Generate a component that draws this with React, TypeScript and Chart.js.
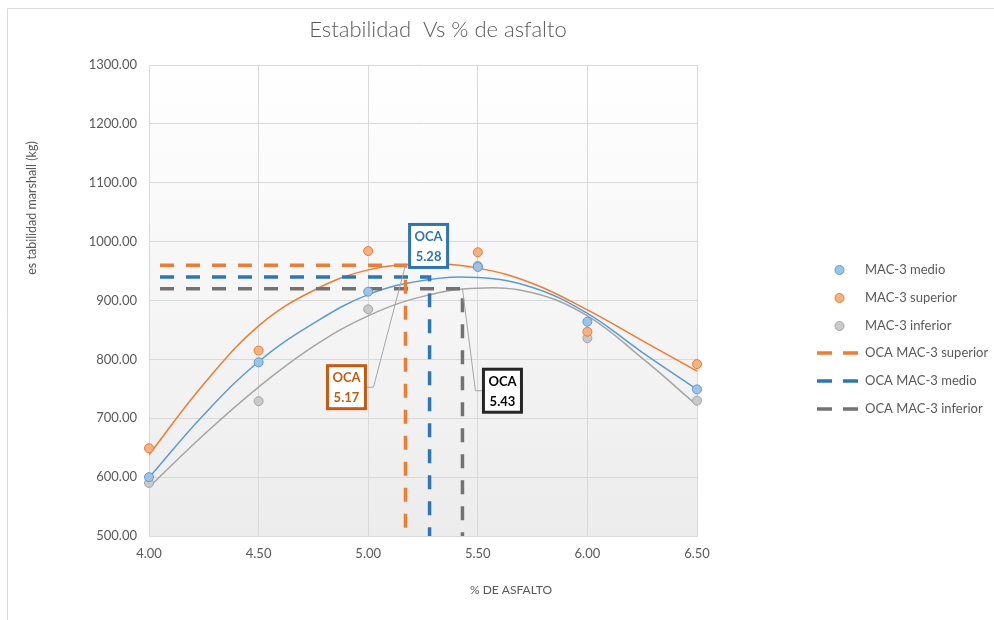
import React, { useEffect, useRef } from "react";
import { Chart, registerables } from "chart.js";

Chart.register(...registerables);

// ---- data ----
const asphaltContent = [4.0, 4.5, 5.0, 5.5, 6.0, 6.5];
const medio = [600, 795, 915, 957, 864, 749];
const superior = [649, 815, 984, 982, 847, 792];
const inferior = [590, 729, 885, 959, 836, 730];

// polynomial trendlines
const trendX = [4.0, 4.25, 4.5, 4.75, 5.0, 5.25, 5.5, 5.75, 6.0, 6.25, 6.5];
const trendSuperior = [638, 758, 857, 917, 952, 962, 955, 929, 884, 832, 780];
const trendMedio = [599, 706, 796, 861, 910, 934, 939, 922, 878, 812, 749];
const trendInferior = [583, 672, 753, 822, 874, 907, 921, 913, 874, 802, 722];

// optimum asphalt content (OCA) markers
const ocaLabels = ["OCA MAC-3 superior", "OCA MAC-3 medio", "OCA MAC-3 inferior"];
const ocaContent = [5.17, 5.28, 5.43];
const ocaStability = [960, 940, 920];

const xMin = 4.0;
const xMax = 6.5;
const xStep = 0.5;
const yMin = 500;
const yMax = 1300;
const yStep = 100;

const titleText = "Estabilidad  Vs % de asfalto";
const xTitle = "% DE ASFALTO";
const yTitle = "es tabilidad marshall (kg)";

const FONT = "Lato, 'Open Sans', sans-serif";

const pts = (xs: number[], ys: number[]) => xs.map((x, i) => ({ x, y: ys[i] }));

export default function App() {
  const ref = useRef<HTMLCanvasElement | null>(null);

  useEffect(() => {
    const canvas = ref.current;
    if (!canvas) return;

    const pointSeries = [
      { label: "MAC-3 medio", values: medio, fill: "#9dc3e6", stroke: "#5b9bd5" },
      { label: "MAC-3 superior", values: superior, fill: "#f4b183", stroke: "#ed7d31" },
      { label: "MAC-3 inferior", values: inferior, fill: "#c9c9c9", stroke: "#a5a5a5" },
    ];
    const ocaColors = ["#ed7d31", "#2e75b6", "#767171"];
    const ocaOrder = [0, 1, 2]; // superior, medio, inferior

    const datasets: any[] = [];
    pointSeries.forEach((s) => {
      datasets.push({
        label: s.label,
        data: pts(asphaltContent, s.values),
        showLine: false,
        pointRadius: 4.5,
        pointHoverRadius: 4.5,
        pointBackgroundColor: s.fill,
        pointBorderColor: s.stroke,
        pointBorderWidth: 1,
        clip: false,
        order: 0,
      });
    });
    ocaOrder.forEach((i) => {
      datasets.push({
        label: ocaLabels[i],
        data: [
          { x: xMin, y: ocaStability[i] },
          { x: ocaContent[i], y: ocaStability[i] },
          { x: ocaContent[i], y: yMin },
        ],
        showLine: true,
        borderColor: ocaColors[i],
        borderWidth: 3.5,
        borderDash: [14, 12],
        borderDashOffset: 15,
        borderCapStyle: "butt",
        pointRadius: 0,
        tension: 0,
        order: 1,
      });
    });
    const trends = [
      { v: trendMedio, c: "#5b9bd5" },
      { v: trendSuperior, c: "#ed7d31" },
      { v: trendInferior, c: "#a5a5a5" },
    ];
    trends.forEach((t) => {
      datasets.push({
        label: "trend",
        data: pts(trendX, t.v),
        showLine: true,
        borderColor: t.c,
        borderWidth: 1.5,
        pointRadius: 0,
        tension: 0.4,
        order: 2,
      });
    });

    const decor = {
      id: "decor",
      beforeDraw(chart: any) {
        const { ctx, chartArea: a } = chart;
        ctx.save();
        ctx.fillStyle = "#ffffff";
        ctx.fillRect(0, 0, chart.width, chart.height);
        ctx.strokeStyle = "#d9d9d9";
        ctx.lineWidth = 1;
        ctx.beginPath();
        ctx.moveTo(7.5, chart.height);
        ctx.lineTo(7.5, 8.5);
        ctx.lineTo(chart.width, 8.5);
        ctx.stroke();
        const g = ctx.createLinearGradient(0, a.top, 0, a.bottom);
        g.addColorStop(0, "#ffffff");
        g.addColorStop(1, "#ececec");
        ctx.fillStyle = g;
        ctx.fillRect(a.left, a.top, a.right - a.left, a.bottom - a.top);
        ctx.restore();
      },
      afterDraw(chart: any) {
        const { ctx } = chart;
        const xs = chart.scales.x;
        const ys = chart.scales.y;
        ctx.save();

        // title
        ctx.fillStyle = "#595959";
        ctx.font = `300 22px ${FONT}`;
        ctx.textAlign = "center";
        ctx.textBaseline = "middle";
        ctx.fillText(titleText, 438, 30);

        // axis titles
        ctx.font = `12px ${FONT}`;
        ctx.fillText(xTitle, 511, 590);
        ctx.save();
        ctx.translate(32, 208);
        ctx.rotate(-Math.PI / 2);
        ctx.font = `12.5px ${FONT}`;
        ctx.fillText(yTitle, 0, 0);
        ctx.restore();

        // legend
        const legendY = [270, 298, 326, 353, 381, 409];
        ctx.font = `13px ${FONT}`;
        ctx.textAlign = "left";
        pointSeries.forEach((s, k) => {
          ctx.beginPath();
          ctx.arc(839.5, legendY[k], 4.5, 0, Math.PI * 2);
          ctx.fillStyle = s.fill;
          ctx.fill();
          ctx.strokeStyle = s.stroke;
          ctx.lineWidth = 1;
          ctx.stroke();
          ctx.fillStyle = "#595959";
          ctx.fillText(s.label, 865, legendY[k]);
        });
        ocaOrder.forEach((i, k) => {
          const y = legendY[3 + k];
          ctx.strokeStyle = ocaColors[i];
          ctx.lineWidth = 3.5;
          ctx.beginPath();
          ctx.moveTo(817, y);
          ctx.lineTo(832, y);
          ctx.moveTo(843, y);
          ctx.lineTo(858, y);
          ctx.stroke();
          ctx.fillStyle = "#595959";
          ctx.fillText(ocaLabels[i], 865, y);
        });

        // callouts
        const callouts = [
          { i: 0, dx: -59, dy: 122, color: "#c55a11", text: "#c55a11", lead: "left" },
          { i: 1, dx: -1, dy: -31, color: "#2e75b6", text: "#2e75b6", lead: "none" },
          { i: 2, dx: 40, dy: 102, color: "#262626", text: "#000000", lead: "right" },
        ];
        callouts.forEach((c) => {
          const px = xs.getPixelForValue(ocaContent[c.i]);
          const py = ys.getPixelForValue(ocaStability[c.i]);
          const cx = px + c.dx;
          const cy = py + c.dy;
          const w = 38;
          const h = 43;
          if (c.lead !== "none") {
            const edge = c.lead === "left" ? cx + w / 2 : cx - w / 2;
            const knee = c.lead === "left" ? edge + 8 : edge - 8;
            ctx.strokeStyle = "#a6a6a6";
            ctx.lineWidth = 1;
            ctx.beginPath();
            ctx.moveTo(px, py);
            ctx.lineTo(knee, cy);
            ctx.lineTo(edge, cy);
            ctx.stroke();
          }
          ctx.fillStyle = "#ffffff";
          ctx.fillRect(cx - w / 2, cy - h / 2, w, h);
          ctx.strokeStyle = c.color;
          ctx.lineWidth = 3;
          ctx.strokeRect(cx - w / 2, cy - h / 2, w, h);
          ctx.fillStyle = c.text;
          ctx.font = `bold 13px ${FONT}`;
          ctx.textAlign = "center";
          ctx.textBaseline = "middle";
          ctx.fillText("OCA", cx, cy - 9);
          ctx.fillText(ocaContent[c.i].toFixed(2), cx, cy + 11);
        });

        ctx.restore();
      },
    };

    const chart = new Chart(canvas, {
      type: "scatter",
      data: { datasets },
      options: {
        animation: false,
        responsive: false,
        devicePixelRatio: 1,
        layout: { padding: { left: 0, top: 65, right: 297, bottom: 0 } },
        plugins: {
          legend: { display: false },
          title: { display: false },
          tooltip: { enabled: false },
        },
        scales: {
          x: {
            type: "linear",
            min: xMin,
            max: xMax,
            afterFit: (s: any) => {
              s.height = 84;
            },
            ticks: {
              stepSize: xStep,
              padding: 10,
              color: "#595959",
              font: { family: FONT, size: 13 },
              callback: (v: any) => Number(v).toFixed(2),
            },
            grid: { color: "#d9d9d9", drawTicks: false },
            border: { color: "#d9d9d9" },
          },
          y: {
            type: "linear",
            min: yMin,
            max: yMax,
            afterFit: (s: any) => {
              s.width = 149;
            },
            ticks: {
              stepSize: yStep,
              padding: 12,
              color: "#595959",
              font: { family: FONT, size: 13 },
              callback: (v: any) => Number(v).toFixed(2),
            },
            grid: { color: "#d9d9d9", drawTicks: false },
            border: { color: "#d9d9d9" },
          },
        },
      },
      plugins: [decor],
    } as any);

    return () => chart.destroy();
  }, []);

  return (
    <div
      style={{
        position: "fixed",
        left: 0,
        top: 0,
        width: 994,
        height: 620,
        background: "#ffffff",
        overflow: "hidden",
      }}
    >
      <canvas ref={ref} width={994} height={620} style={{ display: "block", width: 994, height: 620 }} />
    </div>
  );
}
